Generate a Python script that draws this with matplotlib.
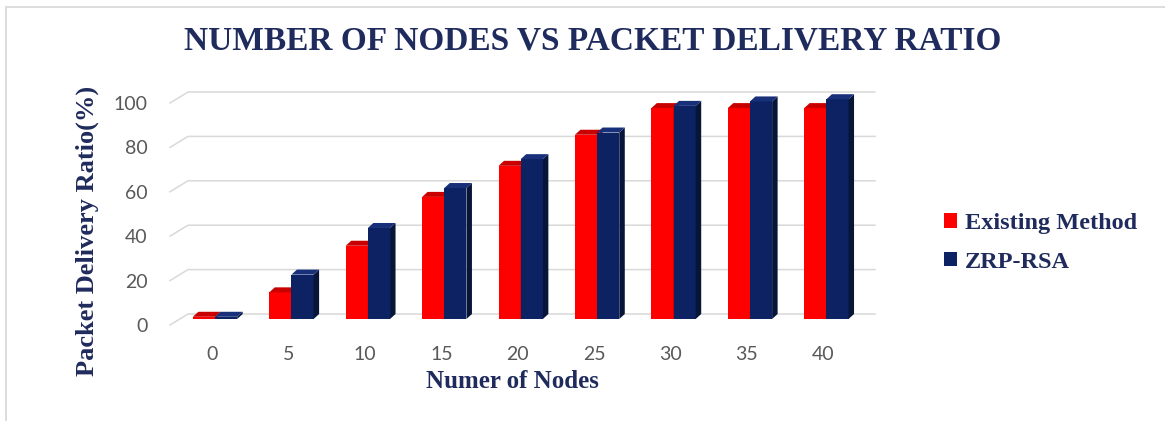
import matplotlib
matplotlib.use("Agg")
import matplotlib.pyplot as plt
from matplotlib.patches import Polygon, Rectangle
from matplotlib.transforms import ScaledTranslation
import numpy as np

# ---- data ----
nodes = [0, 5, 10, 15, 20, 25, 30, 35, 40]
existing = [1, 12, 33, 55, 69, 83, 95, 95, 95]
zrp_rsa = [1, 20, 41, 59, 72, 84, 96, 98, 99]
series_names = ["Existing Method", "ZRP-RSA"]
yticks = [0, 20, 40, 60, 80, 100]

title = "NUMBER OF NODES VS PACKET DELIVERY RATIO"
xlabel = "Numer of Nodes"
ylabel = "Packet Delivery Ratio(%)"

# ---- style ----
W, H = 1165, 421
navy_text = "#1F2B5C"
red = "#FF0000"
red_top = "#C80000"
red_side = "#A00000"
blue = "#0C2263"
blue_top = "#18307A"
blue_side = "#061538"
grid_c = "#D9D9D9"
tick_c = "#595959"

fig = plt.figure(figsize=(W / 100, H / 100), dpi=100)
fig.patch.set_facecolor("white")
fig.add_artist(Rectangle((6 / W, -0.1), 2, 1 - 7 / H + 0.1, transform=fig.transFigure,
                         fill=False, ec="#DADADA", lw=1.3, clip_on=False))

ax_l, ax_r, ax_t, ax_b = 170, 857, 103, 325
ax = fig.add_axes([ax_l / W, 1 - ax_b / H, (ax_r - ax_l) / W, (ax_b - ax_t) / H])
ax.set_facecolor("none")
xmin, xmax = -0.55, 8.44
ax.set_xlim(xmin, xmax)
ax.set_ylim(0, 100)
for s in ax.spines.values():
    s.set_visible(False)

sx = (ax_r - ax_l) / (xmax - xmin)  # px per x unit
sy = (ax_b - ax_t) / 100.0           # px per y unit

# back-wall gridlines with slanted stubs (3D look)
gx, gy = 18 / sx, 11 / sy
for v in yticks:
    ax.plot([xmin, xmin + gx, xmax + gx], [v, v + gy, v + gy], color=grid_c, lw=1.1,
            clip_on=False, zorder=0)

x = np.arange(len(nodes))
w = 0.29
front = ax.transData + ScaledTranslation(3 / 100, 6 / 100, fig.dpi_scale_trans)
ddx, ddy = 5.5 / sx, 5 / sy


def draw_bars(xs, vals, face, top, side, label, z):
    bars = ax.bar(xs, vals, w, align="edge", color=face, transform=front, zorder=z,
                  label=label, clip_on=False)
    for b in bars:
        x0, h = b.get_x(), b.get_height()
        x1 = x0 + w
        ax.add_patch(Polygon([(x1, 0), (x1 + ddx, ddy), (x1 + ddx, h + ddy), (x1, h)],
                             closed=True, fc=side, ec="none", transform=front, zorder=z,
                             clip_on=False))
        ax.add_patch(Polygon([(x0, h), (x0 + ddx, h + ddy), (x1 + ddx, h + ddy), (x1, h)],
                             closed=True, fc=top, ec="none", transform=front, zorder=z,
                             clip_on=False))
    return bars


b1 = draw_bars(x - w, existing, red, red_top, red_side, series_names[0], 2)
b2 = draw_bars(x, zrp_rsa, blue, blue_top, blue_side, series_names[1], 3)

ax.set_xticks(x, labels=[str(n) for n in nodes])
ax.set_yticks(yticks, labels=[str(v) for v in yticks])
ax.tick_params(axis="x", length=0, pad=15, labelsize=14, labelcolor=tick_c)
ax.tick_params(axis="y", length=0, pad=16, labelsize=14, labelcolor=tick_c)
for lab in ax.get_xticklabels() + ax.get_yticklabels():
    lab.set_fontfamily("Lato")

fig.text(593 / W, 1 - 41 / H, title, ha="center", va="center", fontsize=24,
         fontweight="bold", family="Liberation Serif", color=navy_text)
fig.text(512 / W, 1 - 382 / H, xlabel, ha="center", va="center", fontsize=18,
         fontweight="bold", family="Liberation Serif", color=navy_text)
fig.text(87 / W, 1 - 231 / H, ylabel, ha="center", va="center", rotation=90, fontsize=19,
         fontweight="bold", family="Liberation Serif", color=navy_text)

leg = fig.legend(handles=[b1, b2], labels=series_names, loc="center left",
                 bbox_to_anchor=(922 / W, 1 - 243 / H), frameon=False,
                 handlelength=0.55, handleheight=0.55, handletextpad=0.3, labelspacing=0.72,
                 prop={"family": "Liberation Serif", "weight": "bold", "size": 17.5})
for t in leg.get_texts():
    t.set_color(navy_text)

fig.savefig("out.png", dpi=100, facecolor="white")
